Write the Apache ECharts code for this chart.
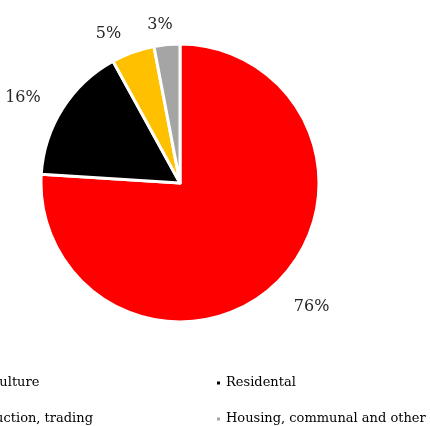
<!DOCTYPE html>
<html>
<head>
<meta charset="utf-8">
<script src="https://cdn.jsdelivr.net/npm/echarts@6/dist/echarts.min.js"></script>
<style>
  html, body { margin: 0; padding: 0; background: #fff; }
  #chart { width: 430px; height: 426px; }
</style>
</head>
<body>
<div id="chart"></div>
<script>
// Share of each sector, in percent
const categories = ['Agriculture', 'Residental', 'Production, trading', 'Housing, communal and other'];
const shares = [76, 16, 5, 3];
const colors = ['#FF0000', '#000000', '#FFC000', '#A5A5A5'];

const font = "'DejaVu Serif', serif";
const pieCenter = [180, 183];
const pieRadius = 139;

const chart = echarts.init(document.getElementById('chart'));

const legendBase = {
  orient: 'vertical',
  top: 375,
  height: 100,
  padding: 0,
  itemWidth: 5,
  itemHeight: 5,
  itemGap: 20,
  icon: 'rect',
  selectedMode: false,
  textStyle: { fontFamily: font, fontSize: 13, color: '#000', lineHeight: 16 }
};

chart.setOption({
  animation: false,
  color: colors,
  legend: [
    Object.assign({}, legendBase, { left: -47, data: [categories[0], categories[2]] }),
    Object.assign({}, legendBase, { left: 215, data: [categories[1], categories[3]] })
  ],
  series: [{
    type: 'pie',
    center: pieCenter,
    radius: pieRadius,
    startAngle: 90,
    clockwise: true,
    avoidLabelOverlap: false,
    itemStyle: { borderColor: '#fff', borderWidth: 3 },
    label: {
      show: true,
      position: 'outside',
      formatter: '{c}%',
      fontFamily: font,
      fontSize: 16,
      color: '#262626'
    },
    labelLine: { show: false, length: 20, length2: 0 },
    // Labels below the centre hang from the line end; labels near the top are centred over it
    labelLayout: function (params) {
      const pts = params.labelLinePoints;
      if (!pts) return {};
      const end = pts[pts.length - 1];
      const out = {};
      if (end[1] > pieCenter[1]) out.verticalAlign = 'top';
      if (Math.abs(end[0] - pieCenter[0]) < 0.2 * pieRadius) out.align = 'center';
      return out;
    },
    emphasis: { disabled: true },
    data: categories.map((name, i) => ({ name: name, value: shares[i] }))
  }]
});
</script>
</body>
</html>
